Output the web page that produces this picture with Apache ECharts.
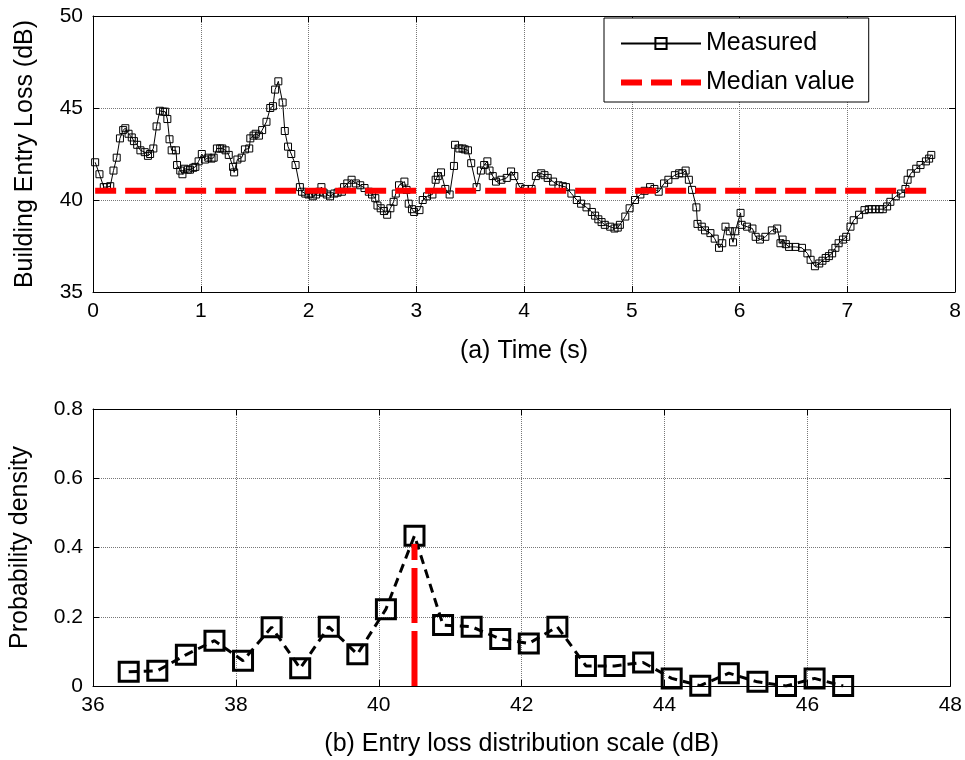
<!DOCTYPE html>
<html>
<head>
<meta charset="utf-8">
<script src="https://cdn.jsdelivr.net/npm/echarts@6.0.0/dist/echarts.min.js"></script>
<style>
  html, body { margin: 0; padding: 0; background: #fff; }
  #chart { width: 965px; height: 760px; }
</style>
</head>
<body>
<div id="chart"></div>
<script>
// (a) measured entry loss over time
var timeS = [0.02, 0.06, 0.10, 0.13, 0.16, 0.19, 0.22, 0.25, 0.28, 0.30, 0.33, 0.36, 0.38, 0.41, 0.44, 0.48, 0.51, 0.53, 0.56, 0.59,
  0.62, 0.65, 0.67, 0.69, 0.71, 0.73, 0.77, 0.78, 0.81, 0.83, 0.85, 0.88, 0.90, 0.93, 0.95, 0.98, 1.01, 1.04, 1.07, 1.10,
  1.12, 1.15, 1.18, 1.20, 1.23, 1.26, 1.30, 1.31, 1.34, 1.38, 1.41, 1.45, 1.46, 1.49, 1.51, 1.54, 1.57, 1.61, 1.645, 1.67,
  1.69, 1.72, 1.76, 1.78, 1.81, 1.84, 1.88, 1.92, 1.94, 1.97, 2.00, 2.02, 2.04, 2.07, 2.10, 2.12, 2.14, 2.17, 2.20, 2.24,
  2.27, 2.31, 2.33, 2.36, 2.40, 2.44, 2.48, 2.52, 2.56, 2.59, 2.62, 2.64, 2.67, 2.70, 2.73, 2.76, 2.79, 2.81, 2.84, 2.89,
  2.91, 2.93, 2.96, 2.98, 3.03, 3.06, 3.10, 3.15, 3.18, 3.20, 3.23, 3.27, 3.31, 3.35, 3.36, 3.40, 3.43, 3.45, 3.48, 3.51,
  3.56, 3.60, 3.63, 3.66, 3.68, 3.71, 3.74, 3.79, 3.84, 3.88, 3.91, 3.96, 4.01, 4.07, 4.11, 4.16, 4.19, 4.22, 4.27, 4.32,
  4.36, 4.39, 4.44, 4.49, 4.53, 4.58, 4.63, 4.66, 4.69, 4.72, 4.75, 4.80, 4.84, 4.87, 4.89, 4.94, 4.98, 5.03, 5.08, 5.12,
  5.17, 5.21, 5.25, 5.30, 5.34, 5.40, 5.44, 5.47, 5.50, 5.53, 5.56, 5.60, 5.61, 5.65, 5.68, 5.73, 5.77, 5.81, 5.84, 5.87,
  5.91, 5.94, 5.96, 6.01, 6.02, 6.07, 6.12, 6.15, 6.19, 6.24, 6.30, 6.35, 6.38, 6.40, 6.43, 6.46, 6.52, 6.58, 6.63, 6.66,
  6.70, 6.74, 6.77, 6.80, 6.83, 6.86, 6.89, 6.92, 6.96, 6.99, 7.03, 7.06, 7.11, 7.16, 7.20, 7.23, 7.26, 7.30, 7.33, 7.37,
  7.40, 7.45, 7.50, 7.54, 7.56, 7.59, 7.64, 7.68, 7.73, 7.76, 7.78]
var lossDb = [42.05, 41.4, 40.7, 40.7, 40.75, 41.6, 42.3, 43.35, 43.8, 43.9, 43.6, 43.4, 43.2, 43.0, 42.7, 42.6, 42.4, 42.5, 42.8, 44.0,
  44.85, 44.8, 44.8, 44.4, 43.3, 42.7, 42.7, 41.9, 41.6, 41.4, 41.7, 41.65, 41.65, 41.75, 41.8, 42.1, 42.5, 42.2, 42.3, 42.25,
  42.3, 42.8, 42.8, 42.8, 42.7, 42.45, 41.8, 41.5, 42.2, 42.3, 42.75, 42.8, 43.35, 43.5, 43.6, 43.5, 43.8, 44.25, 45.0, 45.1,
  46.0, 46.45, 45.3, 43.75, 42.9, 42.5, 41.9, 40.7, 40.45, 40.35, 40.3, 40.35, 40.2, 40.3, 40.45, 40.7, 40.4, 40.3, 40.2, 40.35,
  40.4, 40.45, 40.7, 40.9, 41.1, 40.9, 40.8, 40.65, 40.45, 40.3, 40.1, 39.7, 39.55, 39.4, 39.2, 39.55, 39.9, 40.35, 40.8, 41.0,
  40.55, 39.8, 39.5, 39.35, 39.45, 40.0, 40.2, 40.3, 41.1, 41.3, 41.5, 40.6, 40.3, 41.85, 43.0, 42.8, 42.8, 42.75, 42.7, 42.0,
  40.7, 41.6, 41.9, 42.1, 41.6, 41.3, 41.0, 41.1, 41.2, 41.55, 41.3, 40.7, 40.6, 40.6, 41.3, 41.45, 41.35, 41.2, 41.0, 40.8,
  40.75, 40.7, 40.35, 40.0, 39.8, 39.6, 39.35, 39.15, 38.95, 38.8, 38.65, 38.55, 38.45, 38.5, 38.65, 39.1, 39.55, 40.0, 40.3, 40.5,
  40.7, 40.6, 40.45, 40.9, 41.1, 41.35, 41.45, 41.45, 41.6, 41.1, 40.55, 39.6, 38.7, 38.55, 38.35, 38.2, 37.9, 37.4, 37.65, 38.55,
  38.3, 37.7, 38.3, 39.3, 38.65, 38.55, 38.45, 38.0, 37.85, 38.0, 38.35, 38.45, 37.65, 37.85, 37.6, 37.45, 37.45, 37.4, 37.1, 36.75,
  36.4, 36.55, 36.7, 36.85, 36.95, 37.1, 37.4, 37.65, 37.85, 38.0, 38.55, 38.9, 39.2, 39.45, 39.5, 39.5, 39.5, 39.5, 39.5, 39.65,
  39.9, 40.2, 40.35, 40.6, 41.1, 41.45, 41.7, 41.9, 42.1, 42.25, 42.45]
var medianDb = 40.5
var medianSpan = [0.02, 7.78]

// (b) distribution of the entry loss
var lossScale = [36.5, 36.9, 37.3, 37.7, 38.1, 38.5, 38.9, 39.3, 39.7, 40.1, 40.5, 40.9, 41.3,
  41.7, 42.1, 42.5, 42.9, 43.3, 43.7, 44.1, 44.5, 44.9, 45.3, 45.7, 46.1, 46.5]
var pdfValues = [0.041, 0.044, 0.09, 0.131, 0.073, 0.17, 0.051, 0.171, 0.092, 0.222, 0.434, 0.176, 0.171,
  0.136, 0.123, 0.171, 0.058, 0.058, 0.068, 0.022, 0.001, 0.037, 0.012, 0, 0.022, 0]
var medianPdf = 0.41

var FONT = 'Liberation Sans, Arial, sans-serif'

function pairs(xs, ys) {
  var out = []
  for (var i = 0; i < xs.length; i++) out.push([xs[i], ys[i]])
  return out
}

// main axis with labels + grid lines
function mainAxis(grid, min, max, step, name, gap, isY) {
  return {
    type: 'value', gridIndex: grid, min: min, max: max, interval: step,
    name: name, nameLocation: 'middle', nameGap: gap,
    nameTextStyle: { fontFamily: FONT, fontSize: 25, color: '#000' },
    axisLine: { show: true, onZero: false, lineStyle: { color: '#000', width: 1 } },
    axisTick: { show: true, inside: true, length: 6, lineStyle: { color: '#000' } },
    axisLabel: { fontFamily: FONT, fontSize: 21, color: '#000', margin: isY ? 10 : 9 },
    splitLine: { show: true, lineStyle: { color: '#777', type: 'dotted', width: 1 } }
  }
}

// mirrored axis on the opposite side, ticks only (box look)
function boxAxis(grid, min, max, step, pos) {
  return {
    type: 'value', gridIndex: grid, min: min, max: max, interval: step, position: pos,
    axisLine: { show: true, onZero: false, lineStyle: { color: '#000', width: 1 } },
    axisTick: { show: true, inside: true, length: 6, lineStyle: { color: '#000' } },
    axisLabel: { show: false },
    splitLine: { show: false }
  }
}

var chart = echarts.init(document.getElementById('chart'), null, { renderer: 'canvas' })

var option = {
  backgroundColor: '#fff',
  animation: false,
  textStyle: { fontFamily: FONT },
  grid: [
    { left: 93, right: 10, top: 16, bottom: 468 },
    { left: 93, right: 13, top: 409, bottom: 74 }
  ],
  legend: {
    data: [
      'Measured',
      {
        name: 'Median value',
        itemStyle: { opacity: 0 },
        lineStyle: { color: '#ff0000', width: 6, type: [21, 9], cap: 'butt' }
      }
    ],
    orient: 'vertical',
    left: 604, top: 18,
    padding: [13, 14, 7, 14],
    itemGap: 14,
    itemWidth: 80, itemHeight: 14,
    backgroundColor: '#fff',
    borderColor: '#000', borderWidth: 1, borderRadius: 0,
    textStyle: { fontFamily: FONT, fontSize: 25, color: '#000' }
  },
  xAxis: [
    mainAxis(0, 0, 8, 1, '(a) Time (s)', 47, false),
    boxAxis(0, 0, 8, 1, 'top'),
    mainAxis(1, 36, 48, 2, '(b) Entry loss distribution scale (dB)', 46, false),
    boxAxis(1, 36, 48, 2, 'top')
  ],
  yAxis: [
    mainAxis(0, 35, 50, 5, 'Building Entry Loss (dB)', 55, true),
    boxAxis(0, 35, 50, 5, 'right'),
    mainAxis(1, 0, 0.8, 0.2, 'Probability density', 60, true),
    boxAxis(1, 0, 0.8, 0.2, 'right')
  ],
  series: [
    {
      name: 'Measured', type: 'line', xAxisIndex: 0, yAxisIndex: 0,
      data: pairs(timeS, lossDb),
      symbol: 'rect', symbolSize: 7, showAllSymbol: true,
      lineStyle: { color: '#000', width: 1 },
      itemStyle: { color: 'rgba(0,0,0,0)', borderColor: '#000', borderWidth: 1 },
      z: 2
    },
    {
      name: 'Median value', type: 'line', xAxisIndex: 0, yAxisIndex: 0,
      data: pairs(medianSpan, [medianDb, medianDb]),
      symbol: 'none',
      lineStyle: { color: '#ff0000', width: 6, type: [21, 9], cap: 'butt' },
      itemStyle: { color: '#ff0000' },
      z: 3
    },
    {
      name: 'pdf', type: 'line', xAxisIndex: 2, yAxisIndex: 2,
      data: pairs(lossScale, pdfValues),
      symbol: 'rect', symbolSize: 19,
      lineStyle: { color: '#000', width: 3, type: [9, 6] },
      itemStyle: { color: 'rgba(0,0,0,0)', borderColor: '#000', borderWidth: 3 },
      z: 2
    },
    {
      name: 'pdf median', type: 'line', xAxisIndex: 2, yAxisIndex: 2,
      data: pairs([medianDb, medianDb], [0, medianPdf]),
      symbol: 'none',
      lineStyle: { color: '#ff0000', width: 6, type: [55, 8], cap: 'butt' },
      z: 3
    }
  ]
}

chart.setOption(option)
</script>
</body>
</html>
